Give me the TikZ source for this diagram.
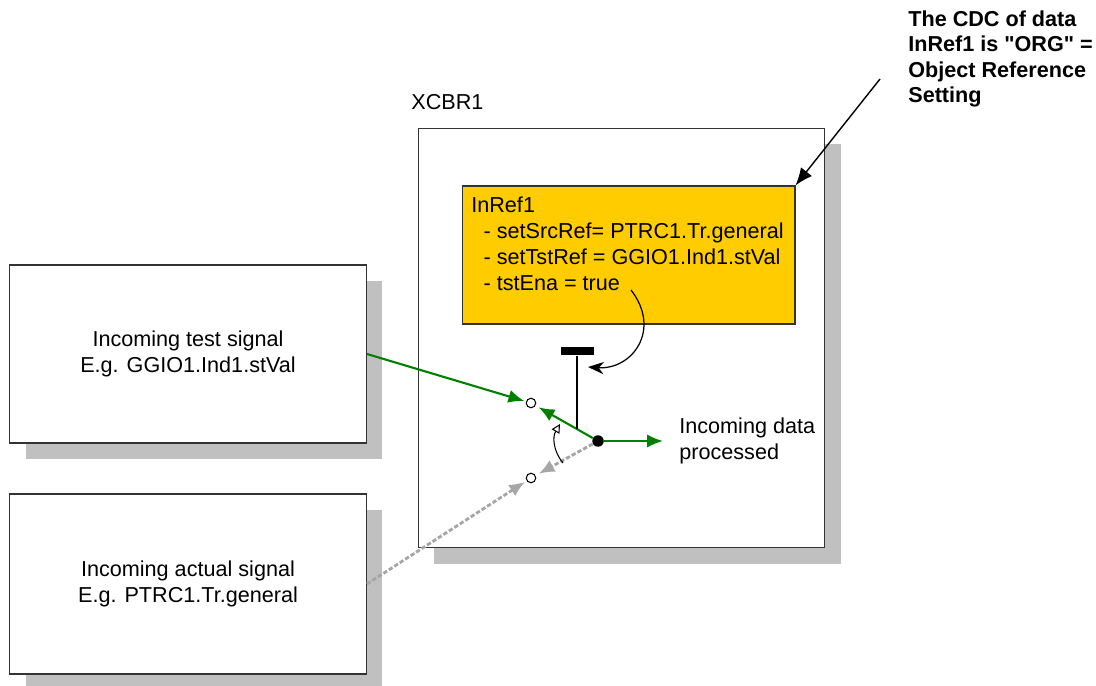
\documentclass[tikz,border=0pt]{standalone}
\usepackage{fontspec}
\setmainfont{Liberation Sans}[Ligatures=TeXOff]
\usetikzlibrary{arrows.meta,positioning,shadows}
\definecolor{refyellow}{HTML}{FFCC00}
\definecolor{sigreen}{HTML}{008000}
\definecolor{shade}{HTML}{C0C0C0}

\begin{document}
\begin{tikzpicture}[x=0.02cm,y=-0.02cm,>={Latex[length=9pt,width=7.5pt]},
  font=\fontsize{12.3}{14.7}\selectfont,
  box/.style={draw=black!80,fill=white,line width=0.6pt,
    drop shadow={shadow xshift=0.32cm,shadow yshift=-0.32cm,fill=shade,opacity=1}},
  refbox/.style={draw=black!80,fill=refyellow,line width=0.6pt,inner sep=0pt},
  sig/.style={sigreen,line width=1.2pt},
  act/.style={black!35,line width=1.6pt,dash pattern=on 2.5pt off 1.2pt},
  port/.style={circle,draw,fill=white,line width=0.6pt,inner sep=0pt,minimum size=0.19cm},
  hubdot/.style={circle,fill=black,inner sep=0pt,minimum size=0.23cm}]
  \useasboundingbox (0,0) rectangle (1096,686);

  % signal sources
  \node[box,minimum width=7.14cm,minimum height=3.56cm,align=center] (test) at (188,354) {Incoming test signal\\E.g. GGIO1.Ind1.stVal};
  \node[box,minimum width=7.14cm,minimum height=3.6cm,align=center] (actual) at (188,584) {Incoming actual signal\\E.g. PTRC1.Tr.general};

  % logical node
  \node[box,minimum width=8.14cm,minimum height=8.4cm] (xcbr) at (621.5,338) {};
  \node[anchor=west,inner sep=0pt] (xcbrlbl) at (411,102) {XCBR1};
  \node[refbox,minimum width=6.66cm,minimum height=2.76cm] (inref) at (628.5,255) {};
  \node[anchor=north west,align=left,inner sep=0pt] (inreftxt) at (471,197)
    {InRef1\\\hspace*{7pt}- setSrcRef= PTRC1.Tr.general\\\hspace*{7pt}- setTstRef = GGIO1.Ind1.stVal\\\hspace*{7pt}- tstEna = true};

  \node[anchor=north west,align=left,inner sep=0pt,font=\fontsize{12.3}{14.6}\selectfont\bfseries] (note) at (908,10)
    {The CDC of data\\InRef1 is "ORG" =\\Object Reference\\Setting};
  \coordinate (notetail) at (880,79);
  \draw[-{Latex[length=10pt,width=8pt]},line width=0.8pt] (notetail) -- (inref.north east);

  % switch
  \node[hubdot] (hub) at (598,441) {};
  \node[port] (ptest) at (531,403) {};
  \node[port] (pact) at (531,478) {};
  \node[fill=black,minimum width=0.66cm,minimum height=0.17cm,inner sep=0pt] (tbar) at (577,351) {};
  \coordinate (pivot) at (577,429);
  \coordinate (out) at (663,441);
  \coordinate (enable) at (631,290);
  \coordinate (arcfrom) at (563,463);
  \coordinate (arcto) at (560,424);

  \draw[sig,->,shorten >=1pt] (test.east) -- (ptest);
  \draw[sig,->,shorten >=2pt] (hub) -- (ptest);
  \draw[sig,->] (hub) -- (out);
  \draw[act,->,shorten >=1pt] (actual.east) -- (pact);
  \draw[act,->,shorten >=2pt] (hub) -- (pact);
  \draw[line width=1.3pt] (tbar.south) -- (pivot);
  \draw[-{Stealth[length=9pt,width=7pt]},line width=0.7pt] (enable) .. controls (662,330) and (632,370) .. (588,367);
  \draw[-{Triangle[open,length=5pt,width=5pt]},line width=0.6pt] (arcfrom) to[bend left=35] (arcto);

  \node[anchor=west,align=left,inner sep=0pt] (outlbl) at (679,441) {Incoming data\\processed};
\end{tikzpicture}
\end{document}
